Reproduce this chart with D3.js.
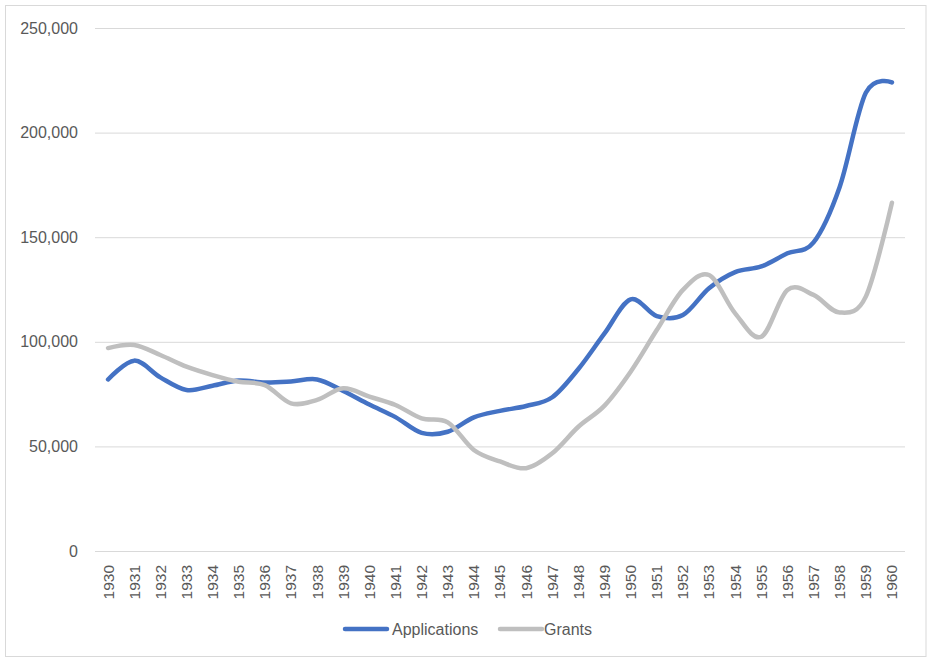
<!DOCTYPE html>
<html>
<head>
<meta charset="utf-8">
<script src="https://cdn.jsdelivr.net/npm/d3@7"></script>
<style>
  body { margin: 0; background: #fff; }
  svg { display: block; }
  text { font-family: "Liberation Sans", Arial, sans-serif; fill: #595959; }
</style>
</head>
<body>
<svg id="chart" width="934" height="665"></svg>
<script>
const years = [1930,1931,1932,1933,1934,1935,1936,1937,1938,1939,1940,1941,1942,1943,1944,1945,1946,1947,1948,1949,1950,1951,1952,1953,1954,1955,1956,1957,1958,1959,1960];
const applications = [82000,91000,83000,77000,79000,81500,80500,81000,82000,76500,70000,64000,56500,57000,63900,67000,69300,73500,87000,104000,120300,112300,112800,125600,133300,136000,142300,147500,174000,219000,224000];
const grants = [97000,98500,93700,88100,84100,80900,79300,70600,72200,77800,73800,69800,63400,61500,48300,42800,39600,46700,59400,69500,85700,105600,124800,131900,113600,102400,124800,122400,114000,121600,166500];
const yTicks = [0,50000,100000,150000,200000,250000];
const seriesNames = ["Applications","Grants"];
const seriesColors = ["#4472C4","#BFBFBF"];

const svg = d3.select("#chart");
const plot = {left: 95, right: 905, top: 28, bottom: 551};

svg.append("rect")
  .attr("x", 5.5).attr("y", 5.5).attr("width", 920.5).attr("height", 651)
  .attr("fill", "#fff").attr("stroke", "#D9D9D9").attr("stroke-width", 1);

const x = d3.scaleBand().domain(years).range([plot.left, plot.right]).paddingInner(0).paddingOuter(0);
const y = d3.scaleLinear().domain([0, 250000]).range([plot.bottom, plot.top]);
const fmt = d3.format(",");

// gridlines + y labels
const yAxis = d3.axisLeft(y).tickValues(yTicks).tickSize(-(plot.right - plot.left)).tickPadding(17).tickFormat(d => fmt(d));
const gy = svg.append("g").attr("transform", `translate(${plot.left},0)`).call(yAxis);
gy.select(".domain").remove();
gy.selectAll(".tick line").attr("stroke", "#D9D9D9").attr("stroke-width", 1);
gy.selectAll(".tick text").style("font-size", "16px").attr("fill", "#595959");

// x axis labels
const xAxis = d3.axisBottom(x).tickSize(0).tickPadding(0);
const gx = svg.append("g").attr("transform", `translate(0,${plot.bottom})`).call(xAxis);
gx.select(".domain").remove();
gx.selectAll(".tick text")
  .style("font-size", "15.5px")
  .attr("fill", "#595959")
  .attr("transform", "rotate(-90)")
  .attr("text-anchor", "end")
  .attr("x", -14)
  .attr("y", 0)
  .attr("dy", "0.35em");

const line = d3.line()
  .x((d, i) => x(years[i]) + x.bandwidth() / 2)
  .y(d => y(d))
  .curve(d3.curveCardinal.tension(0));

[applications, grants].forEach((data, k) => {
  svg.append("path")
    .datum(data)
    .attr("fill", "none")
    .attr("stroke", seriesColors[k])
    .attr("stroke-width", 4.5)
    .attr("stroke-linecap", "round")
    .attr("stroke-linejoin", "round")
    .attr("d", line);
});

// legend
const legendItems = [{x: 345, tx: 392}, {x: 500, tx: 544}];
seriesNames.forEach((name, k) => {
  const g = svg.append("g");
  g.append("line")
    .attr("x1", legendItems[k].x).attr("x2", legendItems[k].x + 42)
    .attr("y1", 629).attr("y2", 629)
    .attr("stroke", seriesColors[k]).attr("stroke-width", 4.5).attr("stroke-linecap", "round");
  g.append("text")
    .attr("x", legendItems[k].tx).attr("y", 629).attr("dy", "0.35em")
    .style("font-size", "16px")
    .text(name);
});
</script>
</body>
</html>
